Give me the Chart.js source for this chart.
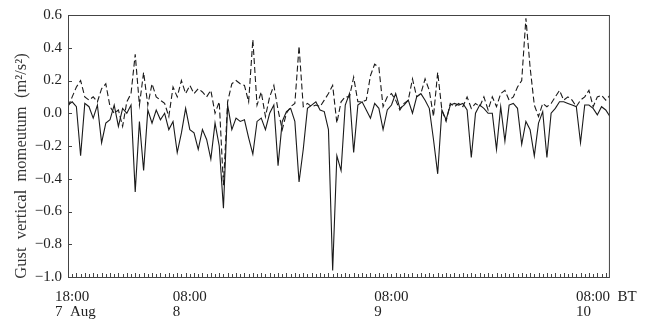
<!DOCTYPE html>
<html>
<head>
<meta charset="utf-8">
<script src="https://cdn.jsdelivr.net/npm/chart.js@4/dist/chart.umd.min.js"></script>
<style>
  body { margin: 0; background: #fff; }
  canvas { display: block; }
</style>
</head>
<body>
<canvas id="gust-chart" width="664" height="322"></canvas>
<script>
// Half-hourly samples starting 18:00 7 Aug (BT); x is hours since the start
const stepHours = 0.5;
const endHours = 64.5;

const solidSeries = [
  0.05, 0.07, 0.04, -0.26, 0.06, 0.04, -0.03, 0.05, -0.18, -0.06,
  -0.04, 0.05, -0.08, 0.03, 0.0, 0.05, -0.48, -0.05, -0.35, 0.02,
  -0.06, 0.02, -0.04, 0.0, -0.1, -0.05, -0.24, -0.12, 0.03, -0.1,
  -0.12, -0.22, -0.1, -0.16, -0.28, -0.06, -0.2, -0.58, 0.05, -0.1,
  -0.03, -0.05, -0.04, -0.15, -0.25, -0.05, -0.03, -0.1, 0.0, 0.05,
  -0.32, -0.05, 0.01, 0.03, -0.05, -0.42, -0.22, 0.03, 0.05, 0.07,
  0.02, 0.01, -0.1, -0.96, -0.26, -0.35, 0.05, 0.12, -0.24, 0.05,
  0.07, 0.02, -0.03, 0.06, 0.03, -0.1, 0.02, 0.05, 0.12, 0.03,
  0.05, 0.08, 0.0, 0.1, 0.12, 0.08, 0.03, -0.16, -0.37, 0.02,
  -0.04, 0.05, 0.06, 0.05, 0.06, 0.02, -0.27, 0.0, 0.05, 0.03,
  0.0, 0.0, -0.22, 0.04, -0.17, 0.05, 0.06, 0.03, -0.19, -0.05,
  -0.1, -0.26, -0.06, 0.01, -0.27, 0.0, 0.03, 0.07, 0.07, 0.06,
  0.05, 0.04, -0.18, 0.05, 0.05, 0.03, -0.01, 0.04, 0.02, -0.02
];

const dashedSeries = [
  0.04, 0.1, 0.16, 0.2, 0.1, 0.08, 0.1, 0.07, 0.15, 0.18,
  0.04, 0.0, 0.02, -0.08, 0.07, 0.12, 0.36, 0.05, 0.25, 0.05,
  0.18, 0.1, 0.08, 0.06, -0.02, 0.16, 0.1, 0.2, 0.12, 0.17,
  0.12, 0.15, 0.13, 0.1, 0.14, 0.0, 0.07, -0.44, 0.07, 0.18,
  0.2, 0.18, 0.17, 0.07, 0.45, 0.05, 0.13, -0.02, 0.1, 0.17,
  0.02, -0.1, 0.0, 0.04, 0.06, 0.41, 0.04, 0.06, 0.04, 0.05,
  0.04, 0.08, 0.12, 0.17, -0.06, 0.07, 0.1, 0.1, 0.22, 0.07,
  0.07, 0.08, 0.23, 0.3, 0.28, 0.04, 0.1, 0.12, 0.08, 0.02,
  0.06, 0.08, 0.21, 0.1, 0.12, 0.21, 0.14, -0.02, 0.25, 0.02,
  -0.05, 0.06, 0.04, 0.06, 0.04, 0.1, 0.03, 0.06, 0.04, 0.1,
  0.02, 0.1, 0.04, 0.12, 0.14, 0.08, 0.1, 0.16, 0.2, 0.58,
  0.28, 0.05, -0.02, 0.06, 0.04, 0.06, 0.1, 0.14, 0.08, 0.1,
  0.08, 0.04, 0.08, 0.1, 0.14, 0.04, 0.1, 0.11, 0.08, 0.11
];

// labelled ticks: hours since start and their two-line labels
const tickHours = [0, 14, 38, 62];
const tickLabels = [
  ['18:00', '7  Aug'],
  ['08:00', '8'],
  ['08:00', '9'],
  ['08:00  BT', '10']
];

const yTicks = [0.6, 0.4, 0.2, 0.0, -0.2, -0.4, -0.6, -0.8, -1.0];
const yTitle = 'Gust  vertical  momeutum  (m\u00B2/s\u00B2)';

const serif = '"Liberation Serif", "DejaVu Serif", serif';
const ink = '#222';

function toPoints(values) {
  return values.map((v, i) => ({ x: i * stepHours, y: v }));
}

function fmtY(v) {
  if (Math.abs(v) < 1e-9) return '0.0';
  return v.toFixed(1).replace('-', '\u2212');
}

// box, inward ticks and rotated y title
const framePlugin = {
  id: 'frame',
  afterDraw(chart) {
    const { ctx, chartArea: a, scales } = chart;
    ctx.save();
    ctx.strokeStyle = '#444';
    ctx.lineWidth = 1;
    ctx.strokeRect(a.left + 0.5, a.top + 0.5, a.right - a.left - 1, a.bottom - a.top);

    ctx.beginPath();
    yTicks.forEach(v => {
      const y = Math.round(scales.y.getPixelForValue(v)) + 0.5;
      ctx.moveTo(a.left, y);
      ctx.lineTo(a.left + 4, y);
    });
    for (let h = stepHours; h < endHours; h += stepHours) {
      const x = Math.round(scales.x.getPixelForValue(h)) + 0.5;
      const len = h % 1 === 0 ? 4 : 3;
      ctx.moveTo(x, a.bottom);
      ctx.lineTo(x, a.bottom - len);
    }
    ctx.stroke();

    ctx.fillStyle = '#333';
    ctx.font = '16.5px ' + serif;
    ctx.textAlign = 'center';
    ctx.textBaseline = 'middle';
    ctx.translate(22, 166);
    ctx.rotate(-Math.PI / 2);
    ctx.fillText(yTitle, 0, 0);
    ctx.restore();
  }
};

new Chart(document.getElementById('gust-chart'), {
  type: 'line',
  data: {
    datasets: [
      {
        label: 'dashed',
        data: toPoints(dashedSeries),
        borderColor: '#1a1a1a',
        borderWidth: 1.1,
        borderDash: [6, 3],
        pointRadius: 0,
        tension: 0
      },
      {
        label: 'solid',
        data: toPoints(solidSeries),
        borderColor: '#1a1a1a',
        borderWidth: 1.1,
        pointRadius: 0,
        tension: 0
      }
    ]
  },
  options: {
    responsive: false,
    devicePixelRatio: 1,
    animation: false,
    layout: { padding: { top: 14, right: 32, left: 0, bottom: 0 } },
    plugins: {
      legend: { display: false },
      tooltip: { enabled: false }
    },
    scales: {
      x: {
        type: 'linear',
        min: 0,
        max: endHours,
        grid: { display: false, drawTicks: false },
        border: { display: false },
        afterBuildTicks: scale => {
          scale.ticks = tickHours.map(h => ({ value: h }));
        },
        afterFit: scale => { scale.height = 45; },
        ticks: {
          autoSkip: false,
          maxRotation: 0,
          align: 'start',
          labelOffset: -13,
          padding: 13,
          color: ink,
          font: { family: serif, size: 15, lineHeight: 1.0 },
          callback: value => {
            const i = tickHours.indexOf(value);
            return i >= 0 ? tickLabels[i] : '';
          }
        }
      },
      y: {
        min: -1.0,
        max: 0.6,
        grid: { display: false, drawTicks: false },
        border: { display: false },
        afterBuildTicks: scale => {
          scale.ticks = yTicks.map(v => ({ value: v }));
        },
        afterFit: scale => { scale.width = 68; },
        ticks: {
          padding: 6,
          color: ink,
          font: { family: serif, size: 15 },
          callback: value => fmtY(value)
        }
      }
    }
  },
  plugins: [framePlugin]
});
</script>
</body>
</html>
